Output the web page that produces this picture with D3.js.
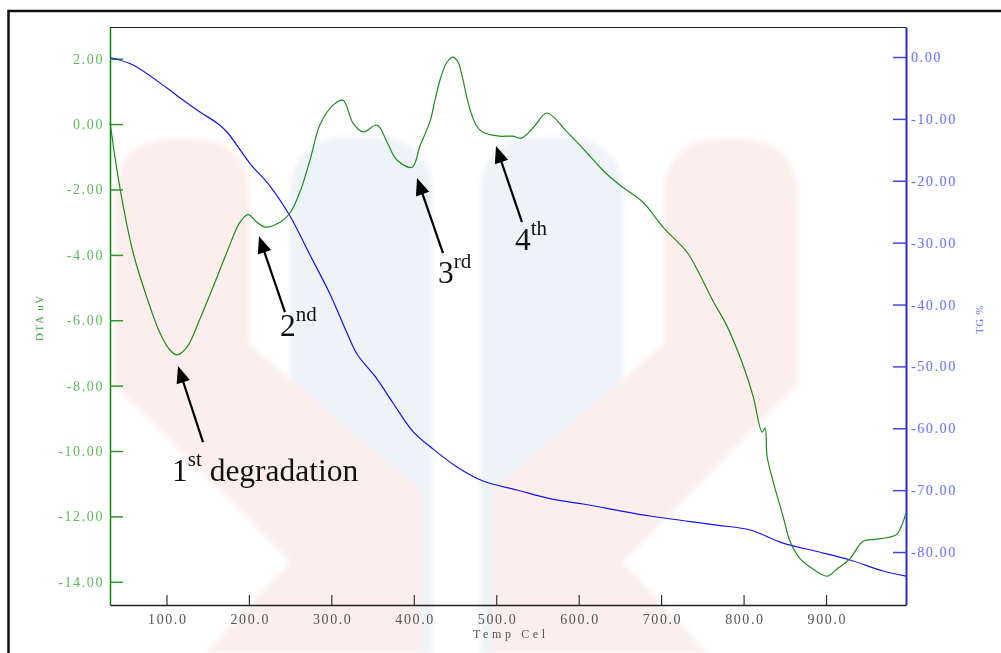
<!DOCTYPE html>
<html>
<head>
<meta charset="utf-8">
<script src="https://cdn.jsdelivr.net/npm/d3@7"></script>
<style>
  body { margin: 0; background: #fff; }
  svg { display: block; }
</style>
</head>
<body>
<svg id="chart" width="1001" height="653"></svg>
<script>
// ---- DTA signal (uV) against temperature (Cel) ----
const dtaTemp = [31.5, 43.6, 59.4, 76.3, 92.1, 104.2, 112.7, 124.9, 140.6, 156.4, 173.4, 189.2, 198.9, 209.8, 219.5,
  237.7, 249.8, 262.0, 274.1, 286.2, 302.0, 314.1, 326.2, 338.4, 355.4, 367.5, 379.6, 397.8, 407.5, 419.7,
  425.7, 431.8, 440.3, 447.6, 453.6, 459.7, 464.5, 469.4, 476.0, 483.3, 503.9, 519.7, 530.6, 546.5, 561.5,
  585.8, 613.7, 629.5, 650.1, 678.0, 702.3, 731.4, 743.5, 762.9, 779.9, 799.3, 811.5, 822.4, 826.0, 828.5,
  835.7, 847.8, 856.3, 868.5, 884.2, 901.2, 913.3, 929.1, 944.9, 959.4, 977.6, 986.1, 997.0];
const dtaValue = [0.06, -1.96, -3.92, -5.31, -6.39, -6.91, -7.06, -6.82, -5.96, -4.99, -3.91, -3.00, -2.77, -3.00, -3.15,
  -3.00, -2.72, -2.07, -1.10, -0.02, 0.58, 0.73, 0.03, -0.24, -0.03, -0.55, -1.10, -1.32, -0.67, 0.09,
  0.73, 1.35, 1.90, 2.05, 1.90, 1.35, 0.80, 0.35, -0.05, -0.24, -0.37, -0.37, -0.43, -0.06, 0.34,
  -0.24, -0.98, -1.42, -1.87, -2.39, -3.15, -3.92, -4.44, -5.41, -6.18, -7.37, -8.32, -9.42, -9.30, -10.16,
  -10.92, -11.99, -12.76, -13.29, -13.61, -13.83, -13.61, -13.29, -12.76, -12.70, -12.63, -12.54, -11.90];

// ---- TG mass change (%) against temperature (Cel) ----
const tgTemp = [31.5, 59.4, 100.6, 120.0, 140.6, 161.3, 173.4, 201.3, 225.6, 249.8, 274.1, 298.3, 319.0, 331.1,
  355.4, 374.8, 399.1, 423.3, 452.4, 484.0, 525.2, 565.2, 605.3, 686.5, 767.8, 807.9, 847.9, 889.2, 929.1, 969.2, 997.0];
const tgValue = [-0.08, -1.29, -5.01, -6.95, -8.89, -10.67, -12.12, -17.21, -20.85, -25.70, -32.00, -38.30, -44.61, -48.00,
  -52.04, -55.92, -60.54, -63.35, -66.26, -68.53, -69.98, -71.37, -72.24, -74.18, -75.64, -76.44, -78.55, -79.92, -81.29, -83.07, -83.88];

// ---- axis ticks ----
const tempTicks = [100, 200, 300, 400, 500, 600, 700, 800, 900];
const dtaTicks = [2, 0, -2, -4, -6, -8, -10, -12, -14];
const tgTicks = [0, -10, -20, -30, -40, -50, -60, -70, -80];

// ---- degradation step annotations (on the DTA scale) ----
const stepNumber = ["1", "2", "3", "4"];
const stepSuffix = ["st", "nd", "rd", "th"];
const stepTail = [" degradation", "", "", ""];
const arrowTipTemp = [114.0, 212.2, 403.9, 499.7];
const arrowTipValue = [-7.40, -3.43, -1.65, -0.67];
const arrowTailTemp = [144.3, 243.7, 435.4, 531.2];
const arrowTailValue = [-9.73, -5.75, -3.95, -3.00];
const labelTemp = [106.7, 237.7, 429.3, 522.7];
const labelValue = [-10.92, -6.49, -4.86, -3.85];

const svg = d3.select("#chart");
const plot = { left: 110, right: 906, top: 27, bottom: 605 };

const x = d3.scaleLinear().domain([31.5, 997]).range([plot.left, plot.right]);
const yL = d3.scaleLinear().domain([-14.71, 2.97]).range([plot.bottom, plot.top]);
const yR = d3.scaleLinear().domain([-88.56, 4.85]).range([plot.bottom, plot.top]);

// outer frame
svg.append("rect")
  .attr("x", 8.5).attr("y", 11).attr("width", 1010).attr("height", 700)
  .attr("fill", "#fff").attr("stroke", "#111").attr("stroke-width", 2.5);

// faint background logo
const defs = svg.append("defs");
defs.append("filter").attr("id", "soft").append("feGaussianBlur").attr("stdDeviation", 2.5);
const logoBlue = "M290,653 L290,197 Q290,137 350,137 L373,137 Q433,137 433,197 L433,653 Z";
const logoPink = "M115,385 L115,199 Q115,139 175,139 L190,139 Q250,139 250,199 L250,345 L420,490 L420,653 L205,653 L290,562 Z";
const logo = svg.append("g").attr("filter", "url(#soft)");
[null, "translate(913,0) scale(-1,1)"].forEach(t => {
  const g = logo.append("g");
  if (t) g.attr("transform", t);
  g.append("path").attr("d", logoBlue).attr("fill", "#eef3f8");
  g.append("path").attr("d", logoPink).attr("fill", "#fdeeee");
});

// top border of plot area
svg.append("line")
  .attr("x1", plot.left).attr("x2", plot.right).attr("y1", plot.top + 0.5).attr("y2", plot.top + 0.5)
  .attr("stroke", "#222").attr("stroke-width", 1.2);

const fmt2 = v => v.toFixed(2);
const fmt1 = v => v.toFixed(1);
const tickFont = "'Liberation Serif', 'DejaVu Serif', serif";

// left DTA axis
const gL = svg.append("g").attr("transform", `translate(${plot.left},0)`)
  .call(d3.axisLeft(yL).tickValues(dtaTicks).tickFormat(fmt2).tickSize(-13).tickSizeOuter(0).tickPadding(6));
gL.select(".domain").attr("stroke", "#0a8a0a").attr("stroke-width", 1.5);
gL.selectAll(".tick line").attr("stroke", "#2a9a2a").attr("stroke-width", 1.5);
gL.selectAll(".tick text").attr("fill", "#5cb85c").style("font-family", tickFont)
  .style("font-size", "14px").style("letter-spacing", "1.6px");

// right TG axis
const gR = svg.append("g").attr("transform", `translate(${plot.right},0)`)
  .call(d3.axisRight(yR).tickValues(tgTicks).tickFormat(fmt2).tickSize(-13).tickSizeOuter(0).tickPadding(5));
gR.select(".domain").attr("stroke", "#2b2bd0").attr("stroke-width", 2);
gR.selectAll(".tick line").attr("stroke", "#4444e0").attr("stroke-width", 1.5);
gR.selectAll(".tick text").attr("fill", "#6b6bf5").style("font-family", tickFont)
  .style("font-size", "14px").style("letter-spacing", "1.6px");

// bottom temperature axis
const gB = svg.append("g").attr("transform", `translate(0,${plot.bottom})`)
  .call(d3.axisBottom(x).tickValues(tempTicks).tickFormat(fmt1).tickSize(-10).tickSizeOuter(0).tickPadding(9));
gB.select(".domain").attr("stroke", "#222").attr("stroke-width", 1.5);
gB.selectAll(".tick line").attr("stroke", "#333").attr("stroke-width", 1.2);
gB.selectAll(".tick text").attr("fill", "#555").style("font-family", tickFont)
  .style("font-size", "14px").style("letter-spacing", "1.6px").attr("dx", "0.8px");

// axis titles
svg.append("text").text("Temp Cel")
  .attr("x", 473).attr("y", 638).attr("fill", "#555")
  .style("font-family", tickFont).style("font-size", "12px").style("letter-spacing", "3.6px");
svg.append("text").text("DTA uV")
  .attr("transform", "translate(43,341) rotate(-90)").attr("fill", "#3fa43f")
  .style("font-family", tickFont).style("font-size", "11px").style("letter-spacing", "1.6px");
svg.append("text").text("TG %")
  .attr("transform", "translate(983,334) rotate(-90)").attr("fill", "#6b6bf5")
  .style("font-family", tickFont).style("font-size", "11px").style("letter-spacing", "0.6px");

// curves
const tgLine = d3.line().x((d, i) => x(tgTemp[i])).y(d => yR(d)).curve(d3.curveCatmullRom.alpha(0.5));
svg.append("path").datum(tgValue).attr("d", tgLine)
  .attr("fill", "none").attr("stroke", "#1414f0").attr("stroke-width", 1.2);

const dtaLine = d3.line().x((d, i) => x(dtaTemp[i])).y(d => yL(d)).curve(d3.curveCatmullRom.alpha(0.5));
svg.append("path").datum(dtaValue).attr("d", dtaLine)
  .attr("fill", "none").attr("stroke", "#1c8c1c").attr("stroke-width", 1.2);

// annotation arrows
const ann = svg.append("g");
stepNumber.forEach((s, i) => {
  const tx = x(arrowTipTemp[i]), ty = yL(arrowTipValue[i]);
  const sx = x(arrowTailTemp[i]), sy = yL(arrowTailValue[i]);
  const len = Math.hypot(tx - sx, ty - sy);
  const ux = (tx - sx) / len, uy = (ty - sy) / len;
  const head = 17, half = 7;
  const bx = tx - ux * head, by = ty - uy * head;
  ann.append("line").attr("x1", sx).attr("y1", sy).attr("x2", bx + ux * 2).attr("y2", by + uy * 2)
    .attr("stroke", "#000").attr("stroke-width", 2.2);
  ann.append("polygon")
    .attr("points", [[tx, ty], [bx - uy * half, by + ux * half], [bx + uy * half, by - ux * half]].map(p => p.join(",")).join(" "))
    .attr("fill", "#000");

  const t = ann.append("text").attr("x", x(labelTemp[i])).attr("y", yL(labelValue[i]))
    .attr("fill", "#111").style("font-family", "'Liberation Serif', 'Times New Roman', serif").style("font-size", "31.5px");
  t.append("tspan").text(s);
  t.append("tspan").text(stepSuffix[i]).attr("dy", -15).style("font-size", "21px");
  if (stepTail[i]) t.append("tspan").text(stepTail[i]).attr("dy", 15);
});
</script>
</body>
</html>
